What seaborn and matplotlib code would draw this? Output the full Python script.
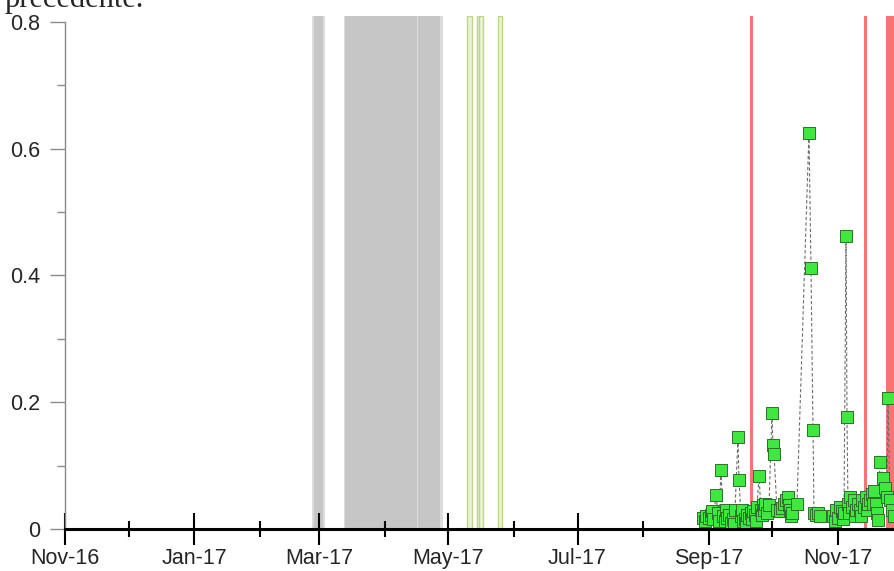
import matplotlib
matplotlib.use('Agg')
import matplotlib.pyplot as plt
import matplotlib.dates as mdates
import pandas as pd
import seaborn as sns

sns.set_style('white')
plt.rcParams['font.family'] = ['Liberation Sans', 'DejaVu Sans']

# --- data ---
dates = [
    "2017-08-29 06:00", "2017-08-30 05:00", "2017-08-30 16:00", "2017-09-01 02:00",
    "2017-09-02 01:00", "2017-09-02 12:00", "2017-09-02 23:00", "2017-09-04 10:00",
    "2017-09-05 08:00", "2017-09-05 19:00", "2017-09-06 18:00", "2017-09-07 17:00",
    "2017-09-08 16:00", "2017-09-09 02:00", "2017-09-09 14:00", "2017-09-10 13:00",
    "2017-09-11 12:00", "2017-09-12 10:00", "2017-09-12 22:00", "2017-09-13 09:00",
    "2017-09-14 19:00", "2017-09-15 06:00", "2017-09-16 05:00", "2017-09-16 17:00",
    "2017-09-17 04:00", "2017-09-18 02:00", "2017-09-18 14:00", "2017-09-19 01:00",
    "2017-09-19 23:00", "2017-09-20 22:00", "2017-09-21 10:00", "2017-09-21 21:00",
    "2017-09-22 19:00", "2017-09-23 07:00", "2017-09-23 18:00", "2017-09-24 17:00",
    "2017-09-25 15:00", "2017-09-26 03:00", "2017-09-26 14:00", "2017-09-27 00:00",
    "2017-09-27 13:00", "2017-09-28 11:00", "2017-09-29 10:00", "2017-09-30 20:00",
    "2017-10-01 07:00", "2017-10-01 19:00", "2017-10-03 05:00", "2017-10-04 15:00",
    "2017-10-05 13:00", "2017-10-06 12:00", "2017-10-07 11:00", "2017-10-08 09:00",
    "2017-10-08 21:00", "2017-10-09 08:00", "2017-10-09 20:00", "2017-10-10 07:00",
    "2017-10-12 15:00", "2017-10-18 07:00", "2017-10-19 06:00", "2017-10-20 05:00",
    "2017-10-20 16:00", "2017-10-21 15:00", "2017-10-22 13:00", "2017-10-23 12:00",
    "2017-10-29 15:00", "2017-10-30 14:00", "2017-10-31 01:00", "2017-11-01 00:00",
    "2017-11-01 23:00", "2017-11-02 21:00", "2017-11-03 09:00", "2017-11-03 20:00",
    "2017-11-04 19:00", "2017-11-05 06:00", "2017-11-05 17:00", "2017-11-06 05:00",
    "2017-11-06 16:00", "2017-11-07 15:00", "2017-11-08 13:00", "2017-11-09 01:00",
    "2017-11-09 12:00", "2017-11-10 11:00", "2017-11-11 09:00", "2017-11-11 21:00",
    "2017-11-12 08:00", "2017-11-13 07:00", "2017-11-14 05:00", "2017-11-14 17:00",
    "2017-11-15 04:00", "2017-11-16 03:00", "2017-11-17 01:00", "2017-11-17 12:00",
    "2017-11-18 00:00", "2017-11-18 23:00", "2017-11-19 10:00", "2017-11-19 21:00",
    "2017-11-20 20:00", "2017-11-22 06:00", "2017-11-23 05:00", "2017-11-24 03:00",
    "2017-11-24 15:00", "2017-11-25 13:00", "2017-11-26 12:00", "2017-11-27 11:00",
]
values = [
    0.018, 0.012, 0.020, 0.017,
    0.022, 0.028, 0.015, 0.054,
    0.025, 0.012, 0.093, 0.020,
    0.012, 0.030, 0.018, 0.022,
    0.010, 0.016, 0.008, 0.030,
    0.145, 0.077, 0.020, 0.030,
    0.012, 0.015, 0.010, 0.022,
    0.018, 0.025, 0.015, 0.028,
    0.022, 0.012, 0.035, 0.084,
    0.030, 0.022, 0.038, 0.030,
    0.040, 0.025, 0.038, 0.183,
    0.132, 0.118, 0.030, 0.028,
    0.033, 0.040, 0.045, 0.050,
    0.038, 0.030, 0.020, 0.025,
    0.040, 0.625, 0.412, 0.156,
    0.025, 0.022, 0.025, 0.020,
    0.020, 0.012, 0.030, 0.018,
    0.035, 0.028, 0.015, 0.025,
    0.462, 0.177, 0.040, 0.025,
    0.050, 0.035, 0.045, 0.020,
    0.030, 0.040, 0.030, 0.020,
    0.045, 0.035, 0.050, 0.030,
    0.040, 0.045, 0.055, 0.040,
    0.060, 0.040, 0.025, 0.014,
    0.106, 0.080, 0.065, 0.050,
    0.207, 0.045, 0.030, 0.020,
]

# grey periods (lighter fringe, then darker core)
grey_fringe = [("2017-02-25 12:00", "2017-03-03 18:00"),
               ("2017-03-12 18:00", "2017-04-28 12:00")]
grey_core = [("2017-02-26 12:00", "2017-03-02 18:00"),
             ("2017-03-13 06:00", "2017-04-16 00:00"),
             ("2017-04-16 18:00", "2017-04-27 06:00")]
# pale green outlined periods
green_periods = [("2017-05-09 18:00", "2017-05-12 05:00"),
                 ("2017-05-14 12:00", "2017-05-16 12:00"),
                 ("2017-05-15 12:00", "2017-05-17 10:00"),
                 ("2017-05-24 10:00", "2017-05-26 07:00")]
# red periods
red_periods = [("2017-09-20 14:00", "2017-09-22 02:00"),
               ("2017-11-13 08:00", "2017-11-14 20:00"),
               ("2017-11-23 16:00", "2017-12-05 00:00")]

x_start = "2016-11-01"
x_end = "2017-11-27 22:00"

df = pd.DataFrame({'date': pd.to_datetime(dates), 'value': values})

fig = plt.figure(figsize=(8.95, 5.71), dpi=100)
ax = fig.add_axes([65 / 895, 1 - 529 / 571, 830 / 895, 513.5 / 571])

band_top = 0.81
for a, b in grey_fringe:
    ax.axvspan(pd.Timestamp(a), pd.Timestamp(b), 0, 1, color='#dcdcdc', lw=0, zorder=0)
for a, b in grey_core:
    ax.axvspan(pd.Timestamp(a), pd.Timestamp(b), 0, 1, color='#c6c6c6', lw=0, zorder=0.1)
for a, b in green_periods:
    ax.axvspan(pd.Timestamp(a), pd.Timestamp(b), 0, 1, facecolor='#ebf2d6',
               edgecolor='#bed68a', lw=1.0, zorder=0.2)
for a, b in red_periods:
    ax.axvspan(pd.Timestamp(a), pd.Timestamp(b), 0, 1, color='#f87474', lw=0, zorder=0.3)

# dashed connecting line and square markers
sns.lineplot(data=df, x='date', y='value', ax=ax, estimator=None, sort=False,
             color='#6e6e6e', lw=0.8, linestyle=(0, (3, 2)), zorder=2)
sns.scatterplot(data=df, x='date', y='value', ax=ax, marker='s', s=72,
                color='#3ee83e', edgecolor='#2f6f2f', linewidth=0.7,
                zorder=3, clip_on=False)

ax.set_xlim(pd.Timestamp(x_start), pd.Timestamp(x_end))
ax.set_ylim(0, band_top)
ax.set_xlabel('')
ax.set_ylabel('')

# axes styling
for s in ['top', 'right']:
    ax.spines[s].set_visible(False)
ax.spines['left'].set_color('#8a8a8a')
ax.spines['left'].set_linewidth(1.0)
ax.spines['left'].set_bounds(0, 0.8)
ax.spines['bottom'].set_color('black')
ax.spines['bottom'].set_linewidth(2.2)
ax.spines['bottom'].set_zorder(4)

ax.set_yticks([0, 0.2, 0.4, 0.6, 0.8])
ax.set_yticklabels(['0', '0.2', '0.4', '0.6', '0.8'])
ax.set_yticks([0.1, 0.3, 0.5, 0.7], minor=True)
ax.tick_params(axis='y', which='major', direction='out', length=11, width=1,
               color='#8a8a8a', labelsize=15.5, pad=7, left=True)
ax.tick_params(axis='y', which='minor', direction='out', length=6, width=1,
               color='#8a8a8a', left=True)

ax.xaxis.set_major_locator(mdates.MonthLocator(bymonth=[11, 1, 3, 5, 7, 9]))
ax.xaxis.set_minor_locator(mdates.MonthLocator(bymonth=[12, 2, 4, 6, 8, 10]))
ax.xaxis.set_major_formatter(mdates.DateFormatter('%b-%y'))
ax.tick_params(axis='x', which='major', direction='inout', length=23, width=1.5,
               color='black', labelsize=15.5, pad=2, bottom=True)
ax.tick_params(axis='x', which='minor', direction='inout', length=11, width=1.5,
               color='black', bottom=True)

# cut-off caption text above the chart
fig.text(5 / 895, 1 - 7 / 571, 'precedente.', family=['Liberation Serif', 'DejaVu Serif'],
         fontsize=22, va='baseline', ha='left')

fig.savefig('out.png', dpi=100)
